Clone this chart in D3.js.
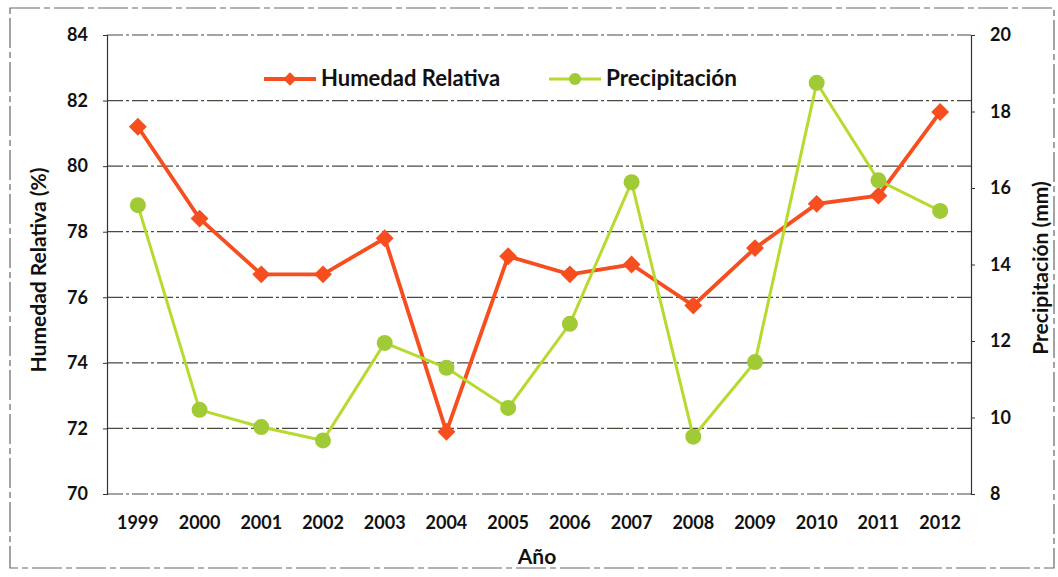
<!DOCTYPE html>
<html><head><meta charset="utf-8">
<script src="https://cdn.jsdelivr.net/npm/d3@7/dist/d3.min.js"></script>
<style>
body{margin:0;background:#fff;}
text{font-family:Lato,"Open Sans",sans-serif;font-weight:700;fill:#111;}
</style></head>
<body><svg id="c" width="1058" height="577"></svg>
<script>
const years = ["1999","2000","2001","2002","2003","2004","2005","2006","2007","2008","2009","2010","2011","2012"];
const humedad = [81.2,78.4,76.7,76.7,77.8,71.9,77.25,76.7,77.0,75.75,77.5,78.85,79.1,81.65];
const precipitacion = [15.55,10.2,9.75,9.4,11.95,11.3,10.25,12.45,16.15,9.5,11.45,18.75,16.2,15.4];
const leftTicks = [70,72,74,76,78,80,82,84];
const rightTicks = [8,10,12,14,16,18,20];
const seriesNames = ["Humedad Relativa","Precipitación"];

const W=1058,H=577, L=107, R=971, T=35, B=494;
const orange="#F64E1E", greenLine="#B7DA2E", greenMark="#A0CB36";
const svg=d3.select("#c");

// outer frame
svg.append("rect").attr("x",10).attr("y",8).attr("width",1044).attr("height",560)
  .attr("fill","none").attr("stroke","#666").attr("stroke-width",1.2).attr("stroke-dasharray","30,4,6,4");

const x=d3.scaleBand().domain(years).range([L,R]);
const yL=d3.scaleLinear().domain([70,84]).range([B,T]);
const yR=d3.scaleLinear().domain([8,20]).range([B,T]);

// gridlines
svg.append("g").selectAll("line").data(leftTicks).join("line")
  .attr("x1",L).attr("x2",R).attr("y1",d=>yL(d)).attr("y2",d=>yL(d))
  .attr("stroke","#4a4a40").attr("stroke-width",1.2).attr("stroke-dasharray","16,3,3,3");

// axes
const axL=svg.append("g").attr("transform",`translate(${L},0)`)
  .call(d3.axisLeft(yL).tickValues(leftTicks).tickSize(4).tickPadding(15));
const axR=svg.append("g").attr("transform",`translate(${R},0)`)
  .call(d3.axisRight(yR).tickValues(rightTicks).tickSize(4).tickPadding(15));
const axB=svg.append("g").attr("transform",`translate(0,${B})`)
  .call(d3.axisBottom(x).tickSize(0).tickPadding(22));
[axL,axR,axB].forEach(a=>{
  a.selectAll("path").attr("stroke","#333").attr("stroke-width",1.2);
  a.selectAll("line").attr("stroke","#333");
  a.selectAll("text").style("font-family","Lato,sans-serif").style("font-weight","700").style("font-size","18px").attr("fill","#111");
});
axB.select("path").remove();

// axis titles
svg.append("text").attr("x",537).attr("y",564).attr("text-anchor","middle").style("font-size","21px").text("Año");
svg.append("text").attr("transform","translate(46,270) rotate(-90)").attr("text-anchor","middle").style("font-size","21px").text("Humedad Relativa (%)");
svg.append("text").attr("transform","translate(1048,268) rotate(-90)").attr("text-anchor","middle").style("font-size","21px").text("Precipitación (mm)");

const cx=d=>x(d)+x.bandwidth()/2;

// lines
const lineH=d3.line().x((d,i)=>cx(years[i])).y(d=>yL(d));
const lineP=d3.line().x((d,i)=>cx(years[i])).y(d=>yR(d));
svg.append("path").attr("d",lineH(humedad)).attr("fill","none").attr("stroke",orange).attr("stroke-width",3.8);
svg.append("path").attr("d",lineP(precipitacion)).attr("fill","none").attr("stroke",greenLine).attr("stroke-width",3);

svg.append("g").selectAll("path").data(humedad).join("path")
  .attr("transform",(d,i)=>`translate(${cx(years[i])},${yL(d)}) rotate(45)`)
  .attr("d",d3.symbol().type(d3.symbolSquare).size(160)).attr("fill",orange);
svg.append("g").selectAll("circle").data(precipitacion).join("circle")
  .attr("cx",(d,i)=>cx(years[i])).attr("cy",d=>yR(d)).attr("r",8).attr("fill",greenMark);

// legend
const lg=svg.append("g");
lg.append("line").attr("x1",264).attr("x2",316).attr("y1",79).attr("y2",79).attr("stroke",orange).attr("stroke-width",3.8);
lg.append("path").attr("transform","translate(290,79) rotate(45)").attr("d",d3.symbol().type(d3.symbolSquare).size(90)).attr("fill",orange);
lg.append("text").attr("x",321).attr("y",86).style("font-size","22px").text(seriesNames[0]);
lg.append("line").attr("x1",549).attr("x2",601).attr("y1",79).attr("y2",79).attr("stroke",greenLine).attr("stroke-width",3);
lg.append("circle").attr("cx",575).attr("cy",79).attr("r",6).attr("fill",greenMark);
lg.append("text").attr("x",606).attr("y",86).style("font-size","22.5px").text(seriesNames[1]);
</script></body></html>
